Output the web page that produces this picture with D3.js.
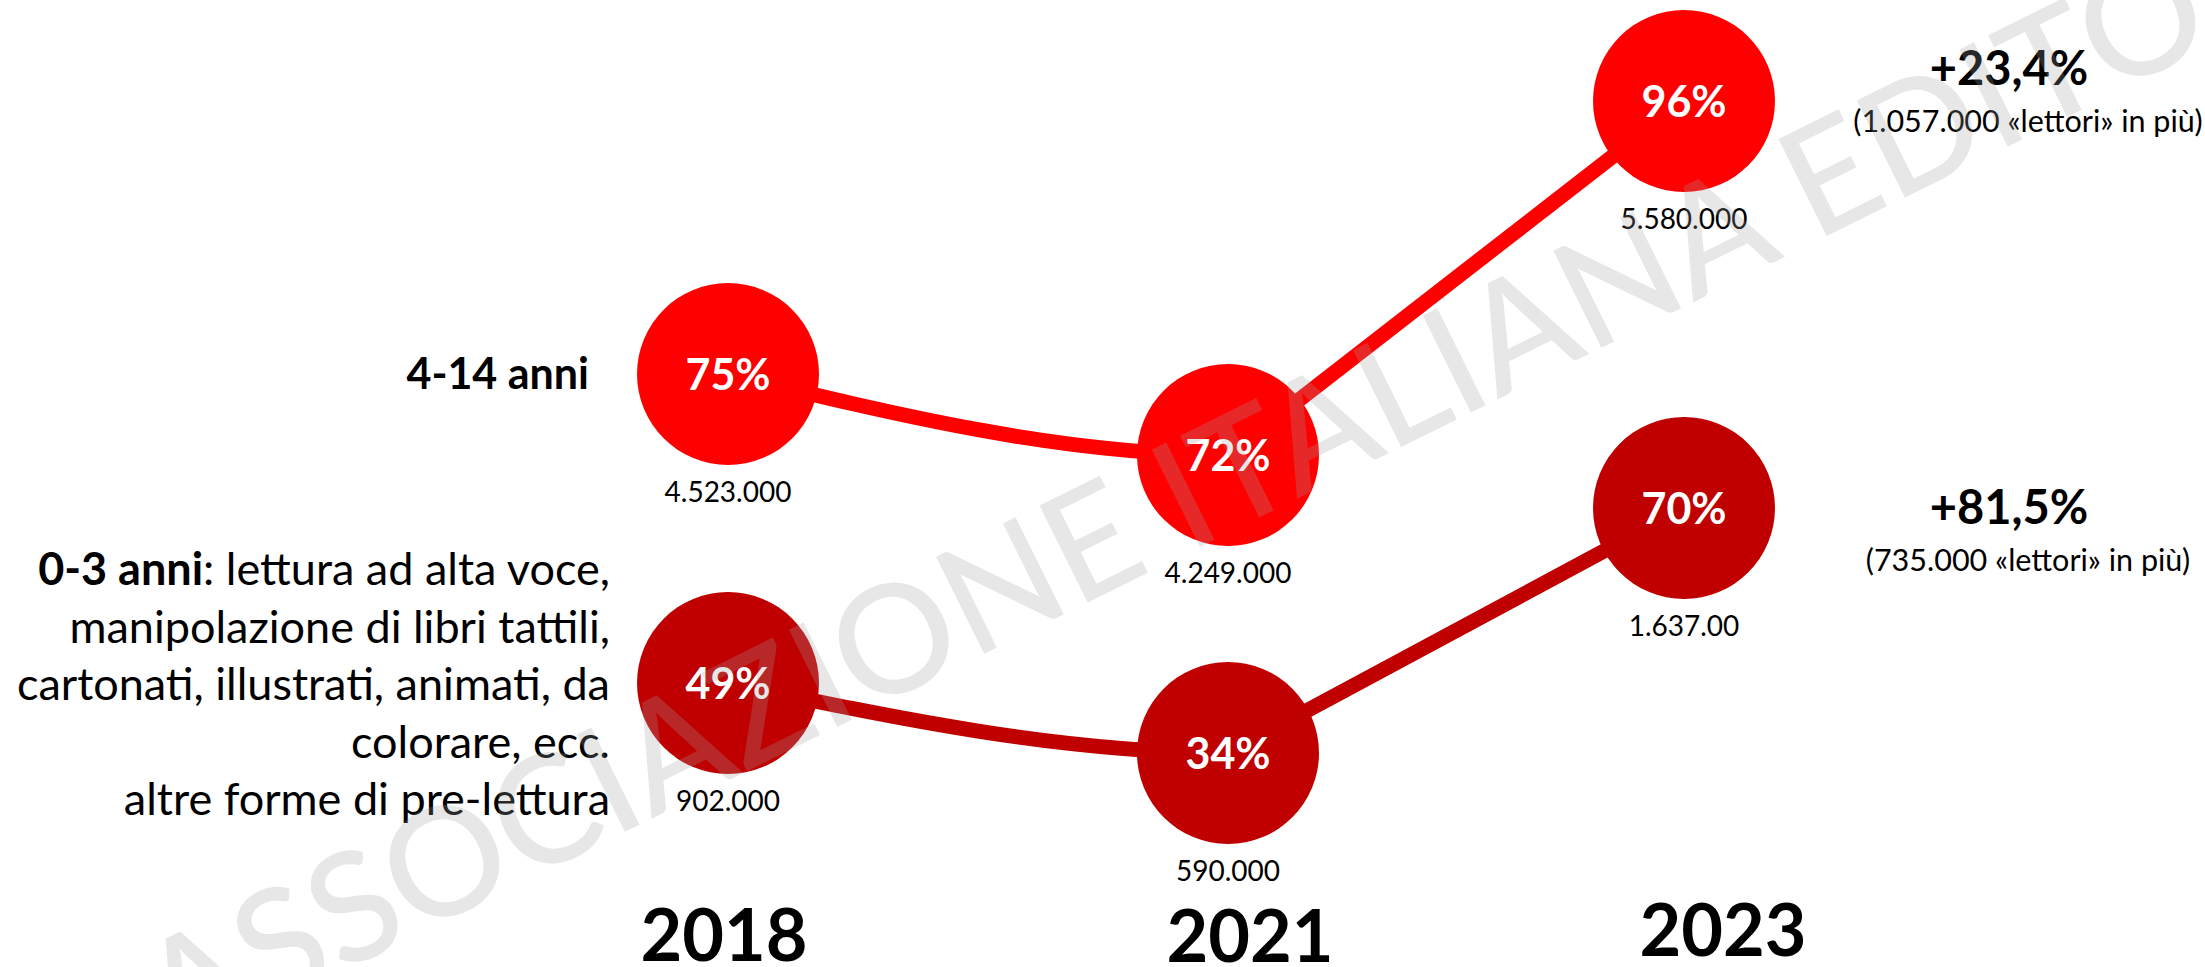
<!DOCTYPE html>
<html>
<head>
<meta charset="utf-8">
<script src="https://cdn.jsdelivr.net/npm/d3@7"></script>
<style>
  body { margin: 0; background: #fff; overflow: hidden; }
  text { font-family: Lato, "Open Sans", sans-serif; }
</style>
</head>
<body>
<svg id="chart"></svg>
<script>
// ---- data ----
var years = [2018, 2021, 2023];
var pctOlder = [75, 72, 96];           // 4-14 anni
var pctYounger = [49, 34, 70];         // 0-3 anni
var readersOlder = ["4.523.000", "4.249.000", "5.580.000"];
var readersYounger = ["902.000", "590.000", "1.637.00"];
var growthLabels = ["+23,4%", "+81,5%"];
var growthNotes = ["(1.057.000 «lettori» in più)", "(735.000 «lettori» in più)"];
var olderLabel = "4-14 anni";
var youngerBold = "0-3 anni";
var youngerLines = [": lettura ad alta voce,", "manipolazione di libri tattili,", "cartonati, illustrati, animati, da", "colorare, ecc.", "altre forme di pre-lettura"];
var watermark = "ASSOCIAZIONE ITALIANA EDITORI";

// ---- setup ----
var width = 2205, height = 967;
var svg = d3.select("#chart").attr("width", width).attr("height", height);

var radius = 91;
var colors = ["#ff0000", "#c00000"];

// year positions (spacing of the original slide is not even)
var x = d3.scaleLinear().domain(years).range([728, 1228, 1684]);
// vertical placement follows the value ranking of the slide
var allPct = d3.sort(pctOlder.concat(pctYounger));
var y = d3.scaleLinear().domain(allPct).range([753, 683, 508, 455, 374, 101]);

var series = [
  { pct: pctOlder, readers: readersOlder, color: colors[0], growth: growthLabels[0], note: growthNotes[0], gdy: -16 },
  { pct: pctYounger, readers: readersYounger, color: colors[1], growth: growthLabels[1], note: growthNotes[1], gdy: 16 }
];
series.forEach(function(s) {
  s.points = years.map(function(yr, i) { return { year: yr, value: s.pct[i], readers: s.readers[i] }; });
});

// clip: first leg drawn smooth, second leg drawn straight
var defs = svg.append("defs");
defs.append("clipPath").attr("id", "leftLeg")
  .append("rect").attr("x", 0).attr("y", 0).attr("width", x(years[1])).attr("height", height);
defs.append("clipPath").attr("id", "rightLeg")
  .append("rect").attr("x", x(years[1])).attr("y", 0).attr("width", width).attr("height", height);

var smooth = d3.line().x(function(d) { return x(d.year); }).y(function(d) { return y(d.value); }).curve(d3.curveMonotoneX);
var straight = d3.line().x(function(d) { return x(d.year); }).y(function(d) { return y(d.value); });

var g = svg.append("g");

series.forEach(function(s) {
  g.append("path").attr("d", smooth(s.points)).attr("clip-path", "url(#leftLeg)")
    .attr("fill", "none").attr("stroke", s.color).attr("stroke-width", 15);
  g.append("path").attr("d", straight(s.points)).attr("clip-path", "url(#rightLeg)")
    .attr("fill", "none").attr("stroke", s.color).attr("stroke-width", 15);
});

series.forEach(function(s) {
  var node = g.selectAll(null).data(s.points).enter().append("g");
  node.append("circle")
    .attr("cx", function(d) { return x(d.year); })
    .attr("cy", function(d) { return y(d.value); })
    .attr("r", radius)
    .attr("fill", s.color);
  node.append("text")
    .attr("x", function(d) { return x(d.year); })
    .attr("y", function(d) { return y(d.value) + 16; })
    .attr("text-anchor", "middle")
    .attr("fill", "#fff")
    .attr("font-weight", 700)
    .attr("font-size", 43)
    .text(function(d) { return d.value + "%"; });
  node.append("text")
    .attr("x", function(d) { return x(d.year); })
    .attr("y", function(d) { return y(d.value) + radius + 37; })
    .attr("text-anchor", "middle")
    .attr("fill", "#000")
    .attr("font-size", 28)
    .text(function(d) { return d.readers; });

  // growth annotation on the right
  var last = s.points[s.points.length - 1];
  g.append("text")
    .attr("x", 2009).attr("y", y(last.value) + s.gdy)
    .attr("text-anchor", "middle").attr("font-weight", 700).attr("font-size", 47)
    .attr("fill", "#000").text(s.growth);
  g.append("text")
    .attr("x", 2028).attr("y", y(last.value) + s.gdy + 47)
    .attr("text-anchor", "middle").attr("font-size", 30.5)
    .attr("fill", "#000").text(s.note);
});

// year labels
var yearDx = [-4, 22, 39];
var yearY = [961, 962, 956];
g.selectAll(".year").data(years).enter().append("text")
  .attr("class", "year")
  .attr("x", function(d, i) { return x(d) + yearDx[i]; })
  .attr("y", function(d, i) { return yearY[i]; })
  .attr("text-anchor", "middle").attr("font-weight", 700).attr("font-size", 72)
  .attr("fill", "#000").text(function(d) { return d; });

// left labels
g.append("text").attr("x", 589).attr("y", y(pctOlder[0]) + 15)
  .attr("text-anchor", "end").attr("font-weight", 700).attr("font-size", 43)
  .attr("fill", "#000").text(olderLabel);

var para = g.append("text").attr("text-anchor", "end").attr("font-size", 45).attr("fill", "#000");
youngerLines.forEach(function(line, i) {
  var t = para.append("tspan").attr("x", 610).attr("y", 585 + i * 57.5);
  if (i === 0) {
    t.append("tspan").attr("font-weight", 700).text(youngerBold);
    t.append("tspan").text(line);
  } else {
    t.text(line);
  }
});

// watermark on top: starts bottom-left, sized so "EDITORI" begins near the top-right
var wmStart = [175, 1055], wmEnd = [1815, 242];
var wmAngle = Math.atan2(wmEnd[1] - wmStart[1], wmEnd[0] - wmStart[0]) * 180 / Math.PI;
var wmSpan = Math.hypot(wmEnd[0] - wmStart[0], wmEnd[1] - wmStart[1]);
var wm = svg.append("text")
  .attr("transform", "translate(" + wmStart + ") rotate(" + wmAngle + ")")
  .attr("font-size", 100)
  .attr("font-weight", 500)
  .attr("fill", "#a0a0a0")
  .attr("fill-opacity", 0.25)
  .text(watermark);
var head = wm.node().getSubStringLength(0, watermark.indexOf("EDITORI"));
wm.attr("font-size", 100 * wmSpan / head);
</script>
</body>
</html>
